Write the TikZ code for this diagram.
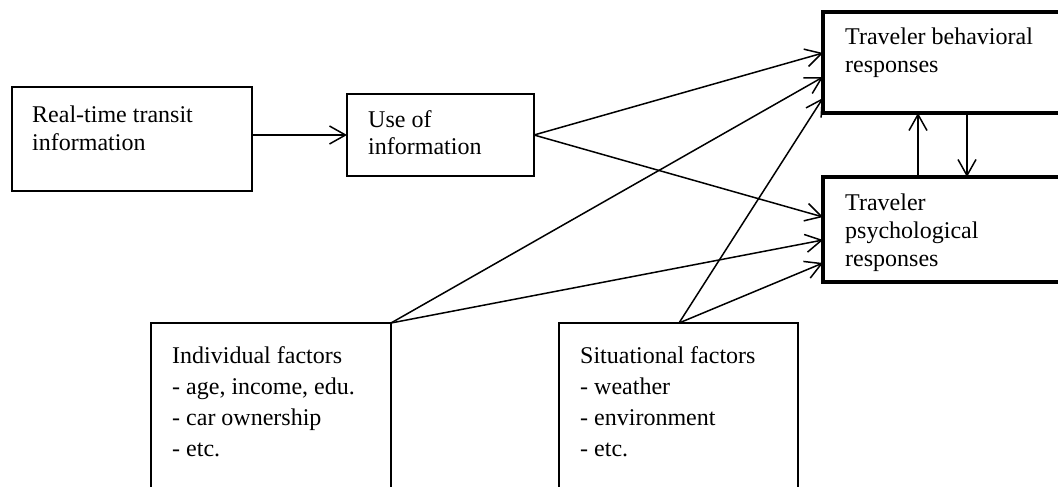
\documentclass[tikz,border=0pt]{standalone}
\usepackage{fontspec}
\setmainfont{Liberation Serif}
\usetikzlibrary{arrows.meta,calc}
\begin{document}
\begin{tikzpicture}[x=1pt,y=-1pt,
  box/.style={draw, rectangle, line width=1.5pt, inner sep=0pt, outer sep=0pt, anchor=north west},
  thickbox/.style={box, line width=3.6pt},
  txt/.style={anchor=north west, inner sep=0pt, align=left, font=\fontsize{24}{27.8}\selectfont},
  listtxt/.style={txt, font=\fontsize{24}{31}\selectfont},
  arr/.style={line width=1.5pt, -{Straight Barb[length=16pt,width=18pt,line width=1.5pt]}}]
\path[use as bounding box] (0,0) rectangle (1058,487);
\clip (0,0) rectangle (1058,487);

% boxes
\node[box, minimum width=240pt, minimum height=104pt] (real) at (12,87) {};
\node[box, minimum width=187pt, minimum height=82pt] (use) at (347,94) {};
\node[thickbox, minimum width=260pt, minimum height=101pt] (beh) at (823,12) {};
\node[thickbox, minimum width=260pt, minimum height=105pt] (psych) at (823,177) {};
\node[box, minimum width=240pt, minimum height=200pt] (ind) at (151,323) {};
\node[box, minimum width=239pt, minimum height=200pt] (sit) at (559,323) {};

% box texts
\node[txt] (realtxt) at ($(real.north west)+(20,19)$) {Real-time transit\\information};
\node[txt] (usetxt) at ($(use.north west)+(21,16)$) {Use of\\information};
\node[txt] (behtxt) at ($(beh.north west)+(22,16)$) {Traveler behavioral\\responses};
\node[txt] (psychtxt) at ($(psych.north west)+(22,17)$) {Traveler\\psychological\\responses};
\node[listtxt] (indtxt) at ($(ind.north west)+(21,23.5)$) {Individual factors\\- age, income, edu.\\- car ownership\\- etc.};
\node[listtxt] (sittxt) at ($(sit.north west)+(21,23.5)$) {Situational factors\\- weather\\- environment\\- etc.};

% connectors
\coordinate (sittop) at ($(sit.north west)+(120,0)$);
\draw[arr] (real.east |- use.west) -- (use.west);
\draw[arr] (use.east) -- ($(beh.north west)+(0,41)$);
\draw[arr] (use.east) -- ($(psych.north west)+(0,40)$);
\draw[arr] (ind.north east) -- ($(beh.north west)+(0,65)$);
\draw[arr] (ind.north east) -- ($(psych.north west)+(0,63)$);
\draw[arr] (sittop) -- ($(beh.north west)+(0,86)$);
\draw[arr] (sittop) -- ($(psych.north west)+(0,86)$);
\draw[arr] ($(psych.north west)+(95,0)$) -- ($(beh.south west)+(95,0)$);
\draw[arr] ($(beh.south west)+(144,0)$) -- ($(psych.north west)+(144,0)$);
\end{tikzpicture}
\end{document}
